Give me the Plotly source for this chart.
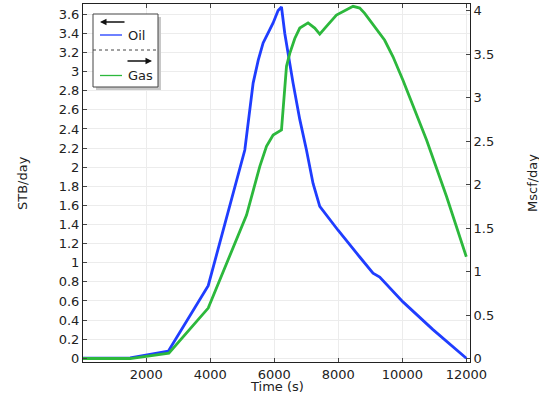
import plotly.graph_objects as go

# ---------------- data ----------------
oil_t = [0, 1500, 2690, 3937, 5080, 5340, 5500, 5652, 5964, 6120, 6226, 6329, 6588,
         6797, 7006, 7212, 7421, 7993, 8670, 9085, 9294, 10021, 10958, 12000]
oil_v = [0.0, 0.005, 0.075, 0.76, 2.18, 2.88, 3.12, 3.30, 3.51, 3.64, 3.677, 3.40, 2.88,
         2.50, 2.18, 1.83, 1.59, 1.34, 1.06, 0.89, 0.85, 0.59, 0.30, 0.0]

gas_t = [0, 1500, 2708, 3937, 5134, 5549, 5757, 5964, 6226, 6276, 6382, 6485, 6641,
         6797, 7056, 7265, 7421, 7630, 7942, 8462, 8670, 8826, 8982, 9138, 9294, 9450,
         9710, 10021, 10761, 11385, 12000]
gas_v = [0.0, 0.0, 0.062, 0.58, 1.65, 2.21, 2.44, 2.57, 2.63, 2.86, 3.36, 3.51, 3.68,
         3.80, 3.86, 3.80, 3.73, 3.82, 3.95, 4.05, 4.03, 3.97, 3.89, 3.82, 3.74, 3.66,
         3.47, 3.20, 2.51, 1.86, 1.17]

x_ticks = [2000, 4000, 6000, 8000, 10000, 12000]
series_names = ["Oil", "Gas"]
x_title = "Time (s)"
y1_title = "STB/day"
y2_title = "Mscf/day"

BLUE = "#1f3dff"
GREEN = "#2cb83c"
FONT = "DejaVu Sans"
TXT = "#222222"

W, H = 539, 394
PL, PR, PT, PB = 83, 470, 4, 362


def px(x):
    return (x - PL) / (PR - PL)


def py(y):
    return (PB - y) / (PB - PT)


fig = go.Figure()
fig.add_trace(go.Scatter(x=oil_t, y=oil_v, mode="lines", name=series_names[0],
                         line=dict(color=BLUE, width=2.8), yaxis="y"))
fig.add_trace(go.Scatter(x=gas_t, y=gas_v, mode="lines", name=series_names[1],
                         line=dict(color=GREEN, width=2.8), yaxis="y2"))

axis_common = dict(showline=True, linecolor="#222222", linewidth=1, ticks="inside",
                   ticklen=4, tickcolor="#444444", zeroline=False, automargin=False,
                   tickfont=dict(family=FONT, size=13, color=TXT))

fig.update_layout(
    width=W, height=H,
    margin=dict(l=PL, r=W - PR, t=PT, b=H - PB, autoexpand=False),
    plot_bgcolor="white", paper_bgcolor="white",
    showlegend=False,
    font=dict(family=FONT, size=13, color=TXT),
    xaxis=dict(range=[25, 12115], tickvals=x_ticks, tickformat="d", mirror="ticks",
               showgrid=True, gridcolor="#ececec", gridwidth=1, **axis_common),
    yaxis=dict(range=[-0.039, 3.708], tick0=0, dtick=0.2, mirror=False,
               showgrid=True, gridcolor="#ececec", gridwidth=1, **axis_common),
    yaxis2=dict(range=[-0.040, 4.077], tick0=0, dtick=0.5, overlaying="y", side="right",
                showgrid=False, **axis_common),
)

# axis titles
fig.add_annotation(text=x_title, x=px(277), y=py(386), xref="paper", yref="paper",
                   showarrow=False, xanchor="center", yanchor="middle",
                   font=dict(family=FONT, size=13, color=TXT))
fig.add_annotation(text=y1_title, x=px(22), y=py(183), xref="paper", yref="paper",
                   showarrow=False, textangle=-90, xanchor="center", yanchor="middle",
                   font=dict(family=FONT, size=13, color=TXT))
fig.add_annotation(text=y2_title, x=px(532), y=py(183), xref="paper", yref="paper",
                   showarrow=False, textangle=-90, xanchor="center", yanchor="middle",
                   font=dict(family=FONT, size=13, color=TXT))

# ---------------- custom legend ----------------
LX0, LX1, LY0, LY1 = 93, 158, 14, 87
# shadow
fig.add_shape(type="rect", xref="paper", yref="paper",
              x0=px(LX0 + 3), x1=px(LX1 + 3), y0=py(LY0 + 3), y1=py(LY1 + 3),
              fillcolor="#c8c8c8", line=dict(width=0), layer="above")
fig.add_shape(type="rect", xref="paper", yref="paper",
              x0=px(LX0), x1=px(LX1), y0=py(LY0), y1=py(LY1),
              fillcolor="white", line=dict(color="#444444", width=1), layer="above")
# separator
fig.add_shape(type="line", xref="paper", yref="paper",
              x0=px(LX0), x1=px(LX1), y0=py(50), y1=py(50),
              line=dict(color="#444444", width=1, dash="dot"), layer="above")
# sample lines
fig.add_shape(type="line", xref="paper", yref="paper",
              x0=px(100), x1=px(122), y0=py(35), y1=py(35),
              line=dict(color=BLUE, width=1.3), layer="above")
fig.add_shape(type="line", xref="paper", yref="paper",
              x0=px(100), x1=px(122), y0=py(75.5), y1=py(75.5),
              line=dict(color=GREEN, width=1.3), layer="above")
# labels
fig.add_annotation(text=series_names[0], x=px(126), y=py(35), xref="paper", yref="paper",
                   showarrow=False, xanchor="left", yanchor="middle",
                   font=dict(family=FONT, size=13, color=TXT))
fig.add_annotation(text=series_names[1], x=px(126), y=py(75.5), xref="paper", yref="paper",
                   showarrow=False, xanchor="left", yanchor="middle",
                   font=dict(family=FONT, size=13, color=TXT))
# arrows (left -> oil axis, right -> gas axis)
fig.add_annotation(text="", x=px(100), y=py(22), xref="paper", yref="paper",
                   ax=26, ay=0, showarrow=True, arrowhead=2, arrowsize=1,
                   arrowwidth=1.3, arrowcolor="#111111")
fig.add_annotation(text="", x=px(152), y=py(61), xref="paper", yref="paper",
                   ax=-26, ay=0, showarrow=True, arrowhead=2, arrowsize=1,
                   arrowwidth=1.3, arrowcolor="#111111")

fig.write_html("out.html", config={"displayModeBar": False},
               post_script="document.body.style.margin='0';")
